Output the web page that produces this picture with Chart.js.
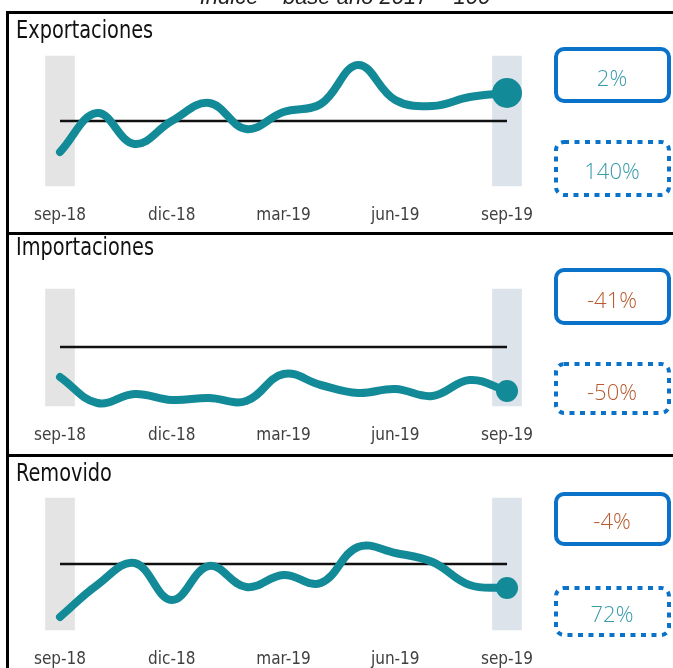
<!DOCTYPE html>
<html>
<head>
<meta charset="utf-8">
<script src="https://cdn.jsdelivr.net/npm/chart.js@4"></script>
<style>
  html, body { margin: 0; padding: 0; background: #fff; }
  body { width: 673px; height: 668px; position: relative; overflow: hidden; }
  canvas { position: absolute; left: 0; }
  .rule { position: absolute; background: #000; }
  svg { position: absolute; left: 0; top: 0; }
</style>
</head>
<body>
<div class="rule" style="left:6px;top:11px;width:700px;height:3px"></div>
<div class="rule" style="left:6px;top:11px;width:2.5px;height:700px"></div>
<div class="rule" style="left:6px;top:232px;width:700px;height:3px"></div>
<div class="rule" style="left:6px;top:454px;width:700px;height:3px"></div>

<canvas id="c0" width="540" height="190"></canvas>
<canvas id="c1" width="540" height="177"></canvas>
<canvas id="c2" width="540" height="192"></canvas>

<svg id="over" width="673" height="668"></svg>

<script>
// monthly index values, sep-18 .. sep-19
const months = ['sep-18', 'oct-18', 'nov-18', 'dic-18', 'ene-19', 'feb-19', 'mar-19',
                'abr-19', 'may-19', 'jun-19', 'jul-19', 'ago-19', 'sep-19'];
const exportaciones = [69, 108, 77, 100, 118, 92, 109, 117, 156, 121, 115, 124, 128];
const importaciones = [70, 44, 53, 47, 49, 46, 73, 62, 54, 58, 51, 67, 56];
const removido      = [47, 79, 101, 64, 98, 77, 89, 81, 117, 111, 102, 79, 76];
const lineaBase     = [100, 100, 100, 100, 100, 100, 100, 100, 100, 100, 100, 100, 100];

const titles = ['Exportaciones', 'Importaciones', 'Removido'];
const boxSolid  = ['2%', '-41%', '-4%'];
const boxDotted = ['140%', '-50%', '72%'];

const teal = '#138a97';
const boxBlue = '#0a72c8';
const narrow = "'Liberation Sans Narrow', 'DejaVu Sans Condensed', sans-serif";

// layout of each panel on the page
const panels = [
  { data: exportaciones, min: 35, max: 165, top: 56, bottom: 186, dot: 15,
    titleY: 38, solid: [49, 52, 77], dotted: [142, 53, 170] },
  { data: importaciones, min: 41, max: 158, top: 289, bottom: 406, dot: 11,
    titleY: 255, solid: [270, 53, 299], dotted: [364, 49, 391] },
  { data: removido, min: 34, max: 166, top: 498, bottom: 630, dot: 11,
    titleY: 481, solid: [494, 50, 520], dotted: [588, 47, 613] }
];

const padTop = 20, axisH = 40;

panels.forEach((p, k) => {
  const cv = document.getElementById('c' + k);
  cv.style.top = (p.top - padTop) + 'px';
  cv.height = padTop + (p.bottom - p.top) + axisH;

  const bands = months.map((m, i) => (i === 0 || i === months.length - 1) ? [p.min, p.max] : null);
  const last = p.data.length - 1;

  new Chart(cv, {
    data: {
      labels: months,
      datasets: [
        {
          type: 'line',
          data: p.data,
          borderColor: teal,
          backgroundColor: teal,
          borderWidth: 8,
          borderCapStyle: 'round',
          borderJoinStyle: 'round',
          tension: 0.4,
          pointRadius: ctx => ctx.dataIndex === last ? p.dot : 0,
          pointBorderWidth: 0,
          clip: false,
          order: 0
        },
        {
          type: 'line',
          data: lineaBase,
          borderColor: '#111',
          borderWidth: 2.5,
          pointRadius: 0,
          tension: 0,
          order: 1
        },
        {
          type: 'bar',
          data: bands,
          backgroundColor: months.map((m, i) => i === 0 ? '#e4e4e4' : '#dde3eb'),
          barThickness: 29,
          clip: false,
          order: 2
        }
      ]
    },
    options: {
      responsive: false,
      animation: false,
      events: [],
      layout: { padding: { left: 60, right: 33, top: padTop, bottom: 0 }, autoPadding: false },
      plugins: { legend: { display: false }, tooltip: { enabled: false } },
      scales: {
        x: {
          offset: false,
          grid: { display: false, drawTicks: false },
          border: { display: false },
          afterFit: s => { s.height = axisH; s.paddingLeft = 0; s.paddingRight = 0; },
          ticks: {
            autoSkip: false,
            maxRotation: 0,
            padding: 19,
            color: '#404040',
            font: { family: narrow, size: 17 },
            callback: (v, i) => i % 3 === 0 ? months[i] : ''
          }
        },
        y: { display: false, min: p.min, max: p.max }
      }
    }
  });
});

// titles, header and value boxes
const NS = 'http://www.w3.org/2000/svg';
const svg = document.getElementById('over');
function el(tag, attrs, text) {
  const e = document.createElementNS(NS, tag);
  for (const a in attrs) e.setAttribute(a, attrs[a]);
  if (text !== undefined) e.textContent = text;
  svg.appendChild(e);
  return e;
}

el('text', { x: 345, y: 4, 'text-anchor': 'middle', 'font-family': 'Liberation Sans',
  'font-style': 'italic', 'font-size': 22, fill: '#222' }, 'Índice – base año 2017 = 100');

panels.forEach((p, k) => {
  // condensed title: bigger font squeezed horizontally
  el('text', { x: 0, y: 0, 'font-family': narrow, 'font-size': 25, fill: '#111',
    transform: `translate(16 ${p.titleY}) scale(0.86 1)` }, titles[k]);

  el('rect', { x: 556, y: p.solid[0], width: 113, height: p.solid[1], rx: 8,
    fill: 'none', stroke: boxBlue, 'stroke-width': 4 });
  el('rect', { x: 556, y: p.dotted[0], width: 113, height: p.dotted[1], rx: 8,
    fill: 'none', stroke: boxBlue, 'stroke-width': 4, 'stroke-dasharray': '5 5.5' });

  [[boxSolid[k], p.solid[2]], [boxDotted[k], p.dotted[2]]].forEach(([txt, cy]) => {
    el('text', { x: 612, y: cy, 'text-anchor': 'middle', 'dominant-baseline': 'central',
      'font-family': 'Open Sans', 'font-weight': 300, 'font-size': 22,
      fill: txt.startsWith('-') ? '#b85a2e' : '#3a9aaa' }, txt);
  });
});
</script>
</body>
</html>
